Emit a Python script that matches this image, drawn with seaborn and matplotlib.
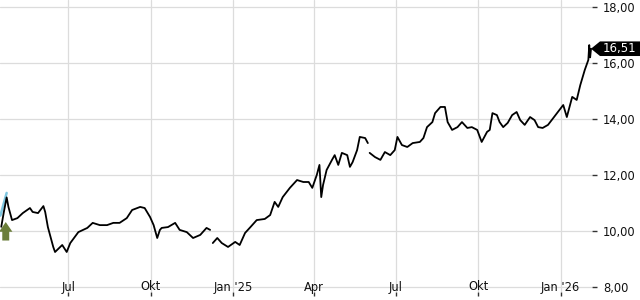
import matplotlib
matplotlib.use("Agg")
import matplotlib.pyplot as plt
import matplotlib.transforms as mtransforms
from matplotlib.patches import Polygon
import seaborn as sns
import pandas as pd

# ---- data ----
dates = [
    "2024-04-17", "2024-04-20", "2024-04-23", "2024-04-25", "2024-04-29", "2024-05-05",
    "2024-05-11", "2024-05-19", "2024-05-22", "2024-05-28", "2024-06-03", "2024-06-05",
    "2024-06-08", "2024-06-14", "2024-06-16", "2024-06-24", "2024-06-29", "2024-07-03",
    "2024-07-12", "2024-07-22", "2024-07-28", "2024-08-05", "2024-08-13", "2024-08-20",
    "2024-08-27", "2024-09-04", "2024-09-10", "2024-09-19", "2024-09-24", "2024-09-30",
    "2024-10-04", "2024-10-08", "2024-10-11", "2024-10-13", "2024-10-20", "2024-10-28",
    "2024-11-02", "2024-11-10", "2024-11-17", "2024-11-25", "2024-12-02", "2024-12-06",
    "2024-12-09", "2024-12-14", "2024-12-19", "2024-12-26", "2025-01-03", "2025-01-08",
    "2025-01-14", "2025-01-20", "2025-01-27", "2025-02-05", "2025-02-11", "2025-02-16",
    "2025-02-20", "2025-02-25", "2025-03-05", "2025-03-13", "2025-03-20", "2025-03-26",
    "2025-03-30", "2025-04-04", "2025-04-07", "2025-04-09", "2025-04-11", "2025-04-15",
    "2025-04-21", "2025-04-24", "2025-04-28", "2025-05-02", "2025-05-08", "2025-05-11",
    "2025-05-14", "2025-05-19", "2025-05-22", "2025-05-28", "2025-05-31",
    "2025-06-02", "2025-06-08", "2025-06-14", "2025-06-19", "2025-06-25", "2025-06-30",
    "2025-07-03", "2025-07-08", "2025-07-14", "2025-07-20", "2025-07-28", "2025-08-01",
    "2025-08-05", "2025-08-11", "2025-08-14", "2025-08-20", "2025-08-25", "2025-08-28",
    "2025-09-02", "2025-09-08", "2025-09-13", "2025-09-19", "2025-09-24", "2025-09-30",
    "2025-10-05", "2025-10-11", "2025-10-14", "2025-10-17", "2025-10-22", "2025-10-25",
    "2025-10-29", "2025-11-03", "2025-11-08", "2025-11-13", "2025-11-17", "2025-11-22",
    "2025-11-28", "2025-12-03", "2025-12-07", "2025-12-12", "2025-12-18", "2025-12-24",
    "2025-12-29", "2026-01-04", "2026-01-08", "2026-01-14", "2026-01-19", "2026-01-23",
    "2026-01-28", "2026-02-01", "2026-02-02", "2026-02-03", "2026-02-04",
]
prices = [
    10.15, 10.70, 11.20, 10.86, 10.39, 10.46,
    10.64, 10.82, 10.68, 10.64, 10.89, 10.68,
    10.14, 9.43, 9.25, 9.50, 9.25, 9.57,
    9.96, 10.11, 10.29, 10.21, 10.21, 10.29,
    10.29, 10.46, 10.75, 10.86, 10.82, 10.50,
    10.21, 9.75, 10.04, 10.11, 10.14, 10.29,
    10.04, 9.96, 9.75, 9.86, 10.11, 10.04,
    9.57, 9.75, 9.57, 9.43, 9.61, 9.50,
    9.93, 10.14, 10.39, 10.43, 10.57, 11.04,
    10.86, 11.21, 11.54, 11.82, 11.75, 11.75,
    11.54, 12.00, 12.36, 11.21, 11.64, 12.18,
    12.54, 12.71, 12.36, 12.79, 12.71, 12.29,
    12.46, 12.89, 13.36, 13.32, 13.14,
    12.79, 12.64, 12.54, 12.82, 12.71, 12.89,
    13.36, 13.07, 13.00, 13.14, 13.18, 13.32,
    13.71, 13.89, 14.21, 14.43, 14.43, 13.89,
    13.61, 13.71, 13.89, 13.68, 13.71, 13.61,
    13.18, 13.54, 13.61, 14.21, 14.14, 13.89,
    13.71, 13.86, 14.14, 14.25, 13.96, 13.79,
    14.07, 13.96, 13.71, 13.68, 13.79, 14.04,
    14.25, 14.50, 14.07, 14.79, 14.68, 15.21,
    15.75, 16.11, 16.64, 16.20, 16.51,
]
gap_starts = ["2024-12-09", "2025-06-02"]   # price gaps (line breaks)

intro_dates = ["2024-04-16", "2024-04-23"]  # light-blue starting segment
intro_prices = [10.55, 11.36]

buy_date = "2024-04-22"
buy_price = 10.32

ytick_values = [8, 10, 12, 14, 16, 18]
xtick_dates = ["2024-07-01", "2024-10-01", "2025-01-01", "2025-04-01",
               "2025-07-01", "2025-10-01", "2026-01-01"]
xtick_labels = ["Jul", "Okt", "Jan '25", "Apr", "Jul", "Okt", "Jan '26"]
last_label = "16,51"

# ---- frame ----
df = pd.DataFrame({"date": pd.to_datetime(dates), "price": prices})
gaps = pd.to_datetime(gap_starts)
df["segment"] = [int((gaps <= d).sum()) for d in df["date"]]
intro = pd.DataFrame({"date": pd.to_datetime(intro_dates), "price": intro_prices})

sns.set_style("white")
plt.rcParams["font.family"] = ["DejaVu Sans"]

fig = plt.figure(figsize=(6.4, 3.0), dpi=100)
ax = fig.add_axes([0.0, 8 / 300, 592 / 640, 292 / 300])

sns.lineplot(data=intro, x="date", y="price", color="#7fc6e0", lw=1.8, ax=ax)
sns.lineplot(data=df, x="date", y="price", units="segment", estimator=None,
             color="black", lw=1.3, ax=ax)

ax.set_xlim(pd.Timestamp("2024-04-15 14:00"), pd.Timestamp("2026-02-05 02:00"))
ax.set_ylim(8 - 5 / 28, 18 + 7 / 28)

for s in ax.spines.values():
    s.set_visible(False)

ax.grid(True, color="#dcdcdc", lw=0.9)
ax.set_axisbelow(True)

ax.yaxis.tick_right()
ax.set_yticks(ytick_values)
ax.set_yticklabels([f"{v:.2f}".replace(".", ",") for v in ytick_values])
ax.tick_params(axis="y", length=3.6, width=1.0, color="#333333", pad=4.3,
               labelsize=8.3, labelcolor="#111111", right=True, left=False)

xt = pd.to_datetime(xtick_dates)
ax.set_xticks(xt)
ax.tick_params(axis="x", length=3.0, width=1.0, color="#333333", labelbottom=False,
               bottom=True)
for d, lab in zip(xt, xtick_labels):
    ax.text(d, 8.0, lab, ha="center", va="center", fontsize=8.3, color="#111111")

ax.set_xlabel("")
ax.set_ylabel("")

# buy marker arrow
ax.annotate("", xy=(pd.Timestamp(buy_date), buy_price),
            xytext=(pd.Timestamp(buy_date), buy_price - 0.66),
            arrowprops=dict(facecolor="#6b7e3a", edgecolor="none",
                            width=5.0, headwidth=9.6, headlength=7.0, shrink=0),
            annotation_clip=False)

# last price tag
last = df["price"].iloc[-1]
tr = mtransforms.blended_transform_factory(fig.transFigure, ax.transData)
h = 7.3 / 28
tag = Polygon([(591 / 640, last), (600 / 640, last + h), (1.0, last + h),
               (1.0, last - h), (600 / 640, last - h)],
              closed=True, facecolor="black", edgecolor="none",
              transform=tr, clip_on=False)
fig.add_artist(tag)
fig.text(603 / 640, last, last_label, transform=tr, color="white",
         fontsize=8.5, va="center", ha="left")

fig.savefig("out.png", dpi=100)
